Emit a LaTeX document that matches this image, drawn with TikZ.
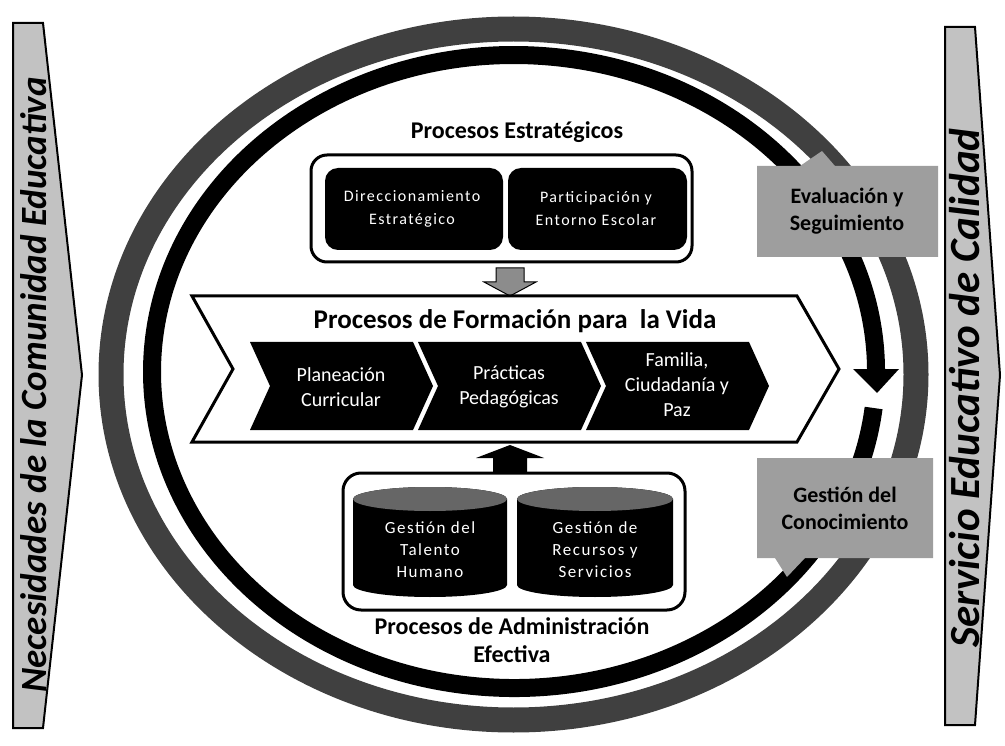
\documentclass[tikz,border=0pt]{standalone}
\usepackage{fontspec}
\setmainfont{Carlito}
\newfontfamily\spacedfont{Carlito}[LetterSpace=9]

\begin{document}
\begin{tikzpicture}[x=1pt,y=-1pt,
    title/.style={font=\fontsize{24}{28}\selectfont\bfseries, align=center, inner sep=0pt},
    sidetext/.style={font=\fontsize{37}{40}\selectfont\bfseries\itshape, rotate=90, inner sep=0pt},
    boxtext/.style={text=white, font=\spacedfont\fontsize{16}{23}\selectfont, align=center, inner sep=0pt},
    steptext/.style={text=white, font=\fontsize{20}{25}\selectfont, align=center, inner sep=0pt},
    cyltext/.style={text=white, font=\spacedfont\fontsize{17}{22}\selectfont, align=center, inner sep=0pt},
    graytext/.style={font=\fontsize{22}{27}\selectfont\bfseries, align=center, inner sep=0pt}]
    \useasboundingbox (0,0) rectangle (1005,746);

    % side arrows
    \filldraw[fill=black!24, draw=black, line width=2pt] (13,23) -- (43,23) -- (82,375) -- (43,728) -- (13,728) -- cycle;
    \filldraw[fill=black!24, draw=black, line width=2pt] (945,27) -- (975,27) -- (1000,375) -- (975,725) -- (945,725) -- cycle;
    \node[sidetext] (necesidades) at (34,385) {Necesidades de la Comunidad Educativa};
    \node[sidetext, font=\fontsize{43}{46}\selectfont\bfseries\itshape] (servicio) at (965,388) {Servicio Educativo de Calidad};

    % rings
    \draw[black!75, line width=25pt] (513.5,374.5) ellipse [x radius=402.5, y radius=345.5];
    \draw[black, line width=18pt] (873.6,408) arc[start angle=6.62, end angle=359.73, x radius=362, y radius=316.5];
    \fill[black] (853,369) -- (899,369) -- (877,393) -- cycle;

    % gray boxes
    \fill[black!38] (757,166) -- (800,166) -- (822,151) -- (835,166) -- (938,166) -- (938,257) -- (757,257) -- cycle;
    \fill[black!38] (757,458) -- (933,458) -- (933,558) -- (805,558) -- (787,577) -- (775,558) -- (757,558) -- cycle;
    \node[graytext] (evaluacion) at (847,211) {Evaluación y\\Seguimiento};
    \node[graytext] (conocimiento) at (845,508) {Gestión del\\Conocimiento};

    % procesos estrategicos
    \node[title] (estrategicos) at (517,132) {Procesos Estratégicos};
    \draw[line width=3pt, rounded corners=16pt] (311,155) rectangle (692,262);
    \fill[black, rounded corners=13pt] (325,168) rectangle (503,250);
    \fill[black, rounded corners=13pt] (508,168) rectangle (687,250);
    \node[boxtext] (direccionamiento) at (412,209) {Direccionamiento\\Estratégico};
    \node[boxtext] (participacion) at (596,209) {Participación y\\Entorno Escolar};

    \filldraw[fill=black!45, draw=black, line width=1pt] (496,268) -- (524,268) -- (524,282) -- (536,282) -- (510,296) -- (484,282) -- (496,282) -- cycle;

    % procesos de formacion
    \filldraw[fill=white, draw=black, line width=3pt] (192,296) -- (797,296) -- (839,369) -- (797,442) -- (192,442) -- (233,369) -- cycle;
    \node[title, font=\fontsize{27}{30}\selectfont\bfseries] (formacion) at (515,321) {Procesos de Formación para\ \ la Vida};

    \fill[black] (250,342) -- (413,342) -- (433,386) -- (413,430) -- (250,430) -- (270,386) -- cycle;
    \fill[black] (418,342) -- (581,342) -- (601,386) -- (581,430) -- (418,430) -- (438,386) -- cycle;
    \fill[black] (586,342) -- (749,342) -- (769,386) -- (749,430) -- (586,430) -- (606,386) -- cycle;
    \node[steptext] (planeacion) at (341,387) {Planeación\\Curricular};
    \node[steptext] (practicas) at (509,387) {Prácticas\\Pedagógicas};
    \node[steptext] (familia) at (677,385) {Familia,\\Ciudadanía y\\Paz};

    \fill[black] (493,472) -- (493,458) -- (476,458) -- (510,445) -- (544,458) -- (527,458) -- (527,472) -- cycle;

    % procesos de administracion
    \draw[line width=3pt, rounded corners=18pt] (343,473) rectangle (685,610);
    \fill[black] (353,499) -- (353,585) arc[start angle=180, end angle=0, x radius=77, y radius=12] -- (507,499) arc[start angle=0, end angle=-180, x radius=77, y radius=12] -- cycle;
    \fill[black!60] (430,499) ellipse [x radius=77, y radius=12];
    \fill[black] (517,499) -- (517,585) arc[start angle=180, end angle=0, x radius=78, y radius=12] -- (673,499) arc[start angle=0, end angle=-180, x radius=78, y radius=12] -- cycle;
    \fill[black!60] (595,499) ellipse [x radius=78, y radius=12];
    \node[cyltext] (talento) at (430,550) {Gestión del\\Talento\\Humano};
    \node[cyltext] (recursos) at (595,550) {Gestión de\\Recursos y\\Servicios};
    \node[title] (administracion) at (512,640) {Procesos de Administración\\Efectiva};
\end{tikzpicture}
\end{document}
